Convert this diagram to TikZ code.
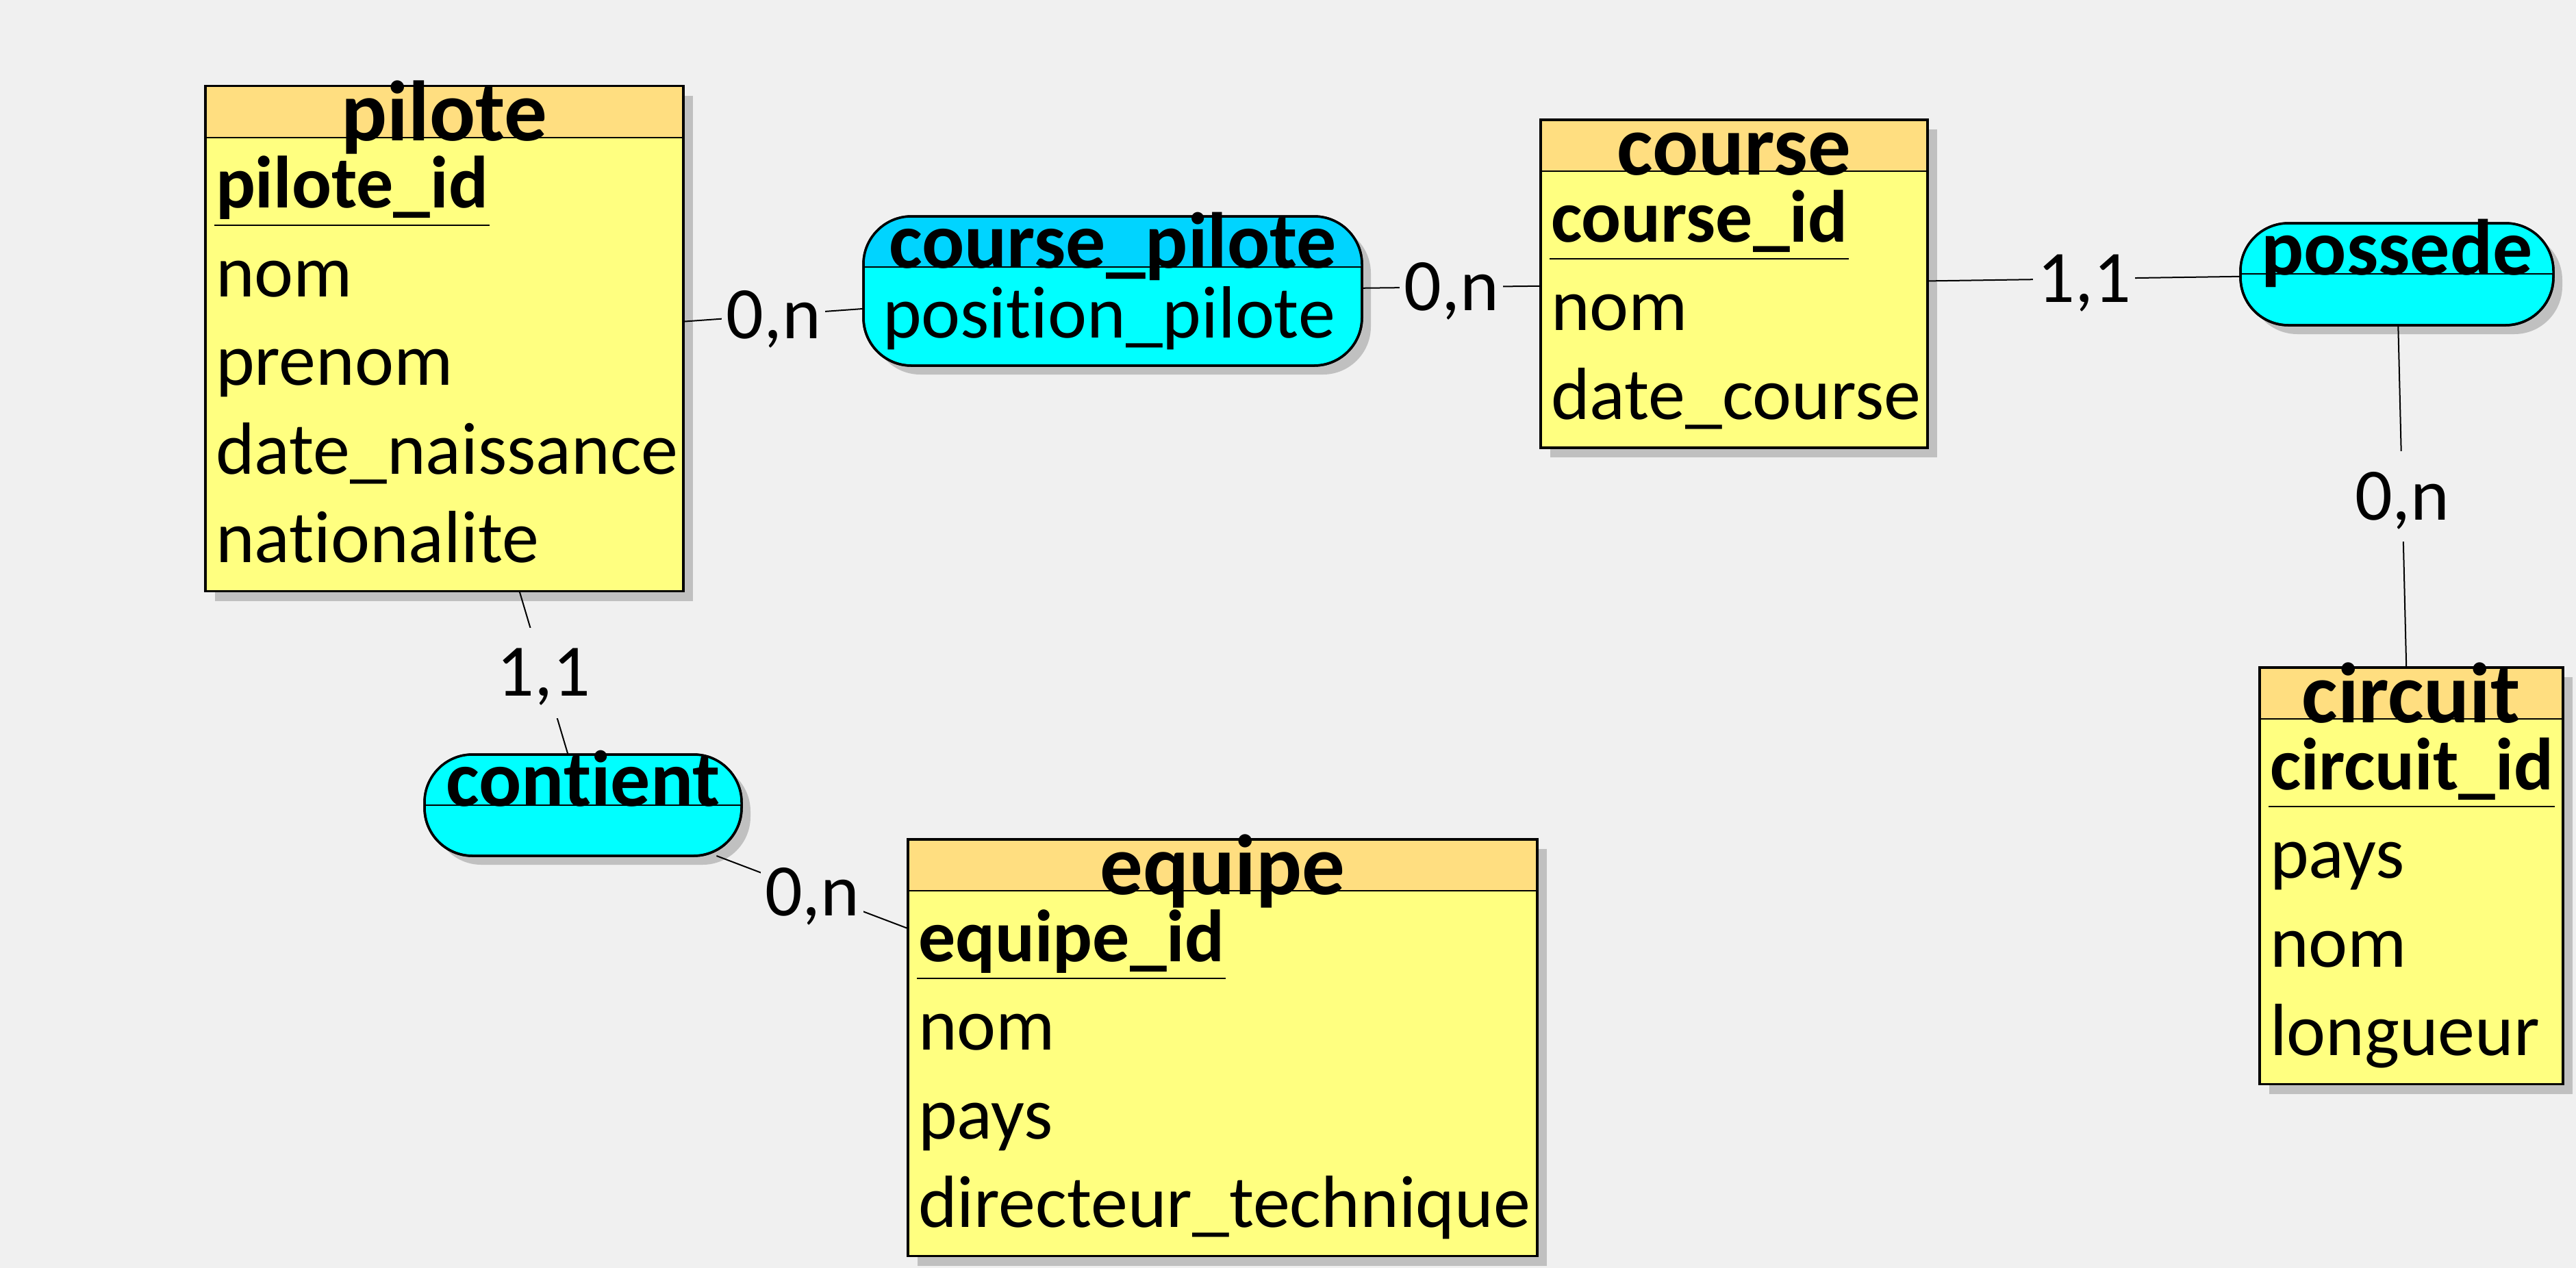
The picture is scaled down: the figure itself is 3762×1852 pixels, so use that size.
\documentclass[tikz,border=0pt]{standalone}
\usepackage{fontspec}
\setmainfont{Carlito}[Ligatures=CommonOff]
\usetikzlibrary{calc,positioning,shadows}
\definecolor{fond}{RGB}{240,240,240}
\definecolor{jaune}{RGB}{255,255,128}
\definecolor{jauneentete}{RGB}{255,222,128}
\definecolor{cyanclair}{RGB}{0,255,255}
\definecolor{cyanfonce}{RGB}{0,212,255}
\definecolor{ombre}{RGB}{192,192,192}
\newcommand{\attrfont}{\fontsize{10.8pt}{13pt}\selectfont}
\newcommand{\entfont}{\fontsize{12.5pt}{14pt}\selectfont\bfseries}
\newcommand{\assofont}{\fontsize{11.6pt}{13pt}\selectfont\bfseries}
\tikzset{
  boite/.style={draw, line width=0.35pt, inner sep=0pt, outer sep=0pt, anchor=north west},
  ombrage/.style={drop shadow={shadow xshift=#1, shadow yshift=-#1, opacity=1, fill=ombre}},
  bord/.style={line width=0.35pt},
  sep/.style={line width=0.2pt},
  attr/.style={inner sep=0pt, font=\attrfont},
  lien/.style={line width=0.2pt},
  card/.style={fill=fond, font=\attrfont, inner xsep=0.6pt, inner ysep=3.2pt, text height=6.8pt, text depth=0pt},
}
% #1 nom, #2 x, #3 y (coin haut gauche), #4 largeur, #5 nb attributs,
% #6 titre, #7 identifiant, #8 attributs
\newcommand{\entite}[8]{%
  \node[boite, ombrage=1.4pt, fill=jaune, minimum width=#4*0.1pt, minimum height={(220+129.5*#5)*0.1pt}] (#1) at (#2,#3) {};
  \fill[jauneentete] (#1.north west) rectangle ($(#1.north east)+(0,75)$);
  \draw[sep] ($(#1.north west)+(0,75)$) -- ($(#1.north east)+(0,75)$);
  \draw[bord] (#1.north west) rectangle (#1.south east);
  \node[inner sep=0pt, font=\entfont, anchor=base] (#1-titre) at ($(#1.north)+(0,80)$) {#6};
  \node[attr, font=\attrfont\bfseries, anchor=base west] (#1-id) at ($(#1.north west)+(13,178)$) {#7};
  \draw[sep] ($(#1-id.base west)+(0,25)$) -- ($(#1-id.base east)+(0,25)$);
  \foreach \nomattr [count=\rang] in {#8} {
    \node[attr, anchor=base west] (#1-a\rang) at ($(#1.north west)+(13,178+129.5*\rang)$) {\nomattr};
  }%
}
% #1 nom, #2 x, #3 y, #4 largeur, #5 hauteur, #6 couleur entete, #7 titre
\newcommand{\asso}[7]{%
  \node[boite, ombrage=1.3pt, rounded corners=7pt, fill=cyanclair, minimum width=#4*0.1pt, minimum height=#5*0.1pt] (#1) at (#2,#3) {};
  \begin{scope}
    \clip[rounded corners=7pt] (#1.north west) rectangle (#1.south east);
    \fill[#6] (#1.north west) rectangle ($(#1.north east)+(0,74)$);
  \end{scope}
  \draw[sep] ($(#1.north west)+(0,74)$) -- ($(#1.north east)+(0,74)$);
  \draw[bord, rounded corners=7pt] (#1.north west) rectangle (#1.south east);
  \node[inner sep=0pt, font=\assofont, anchor=base] (#1-titre) at ($(#1.north)+(0,75)$) {#7};
}

\begin{document}
\begin{tikzpicture}[x=0.1pt, y=-0.1pt]
  \useasboundingbox (0,0) rectangle (3762,1852);
  \fill[fond] (0,0) rectangle (3762,1852);
  % entites
  \entite{pilote}{300}{125.5}{698}{4}{pilote}{pilote\_id}{nom,prenom,date\_naissance,nationalite}
  \entite{course}{2250}{175}{565}{2}{course}{course\_id}{nom,date\_course}
  \entite{circuit}{3300}{975}{443}{3}{circuit}{circuit\_id}{pays,nom,longueur}
  \entite{equipe}{1326}{1226}{919}{3}{equipe}{equipe\_id}{nom,pays,directeur\_technique}
  % associations
  \asso{cp}{1261}{316}{728}{218}{cyanfonce}{course\_pilote}
  \node[attr, anchor=base west] (cp-a1) at ($(cp.north west)+(26,177)$) {position\_pilote};
  \asso{possede}{3272}{326}{457}{149}{cyanclair}{possede}
  \asso{contient}{620}{1102}{463}{148}{cyanclair}{contient}
  % liens
  \draw[lien] (pilote) -- node[card] (card-pcp) {0,n} (cp);
  \draw[lien] (cp) -- node[card] (card-cpc) {0,n} (course);
  \draw[lien] (course) -- node[card] (card-cpo) {1,1} (possede);
  \draw[lien] (possede) -- node[card] (card-poc) {0,n} (circuit);
  \draw[lien] (pilote) -- node[card] (card-pco) {1,1} (contient);
  \draw[lien] (contient) -- node[card] (card-coe) {0,n} (equipe);
\end{tikzpicture}
\end{document}
